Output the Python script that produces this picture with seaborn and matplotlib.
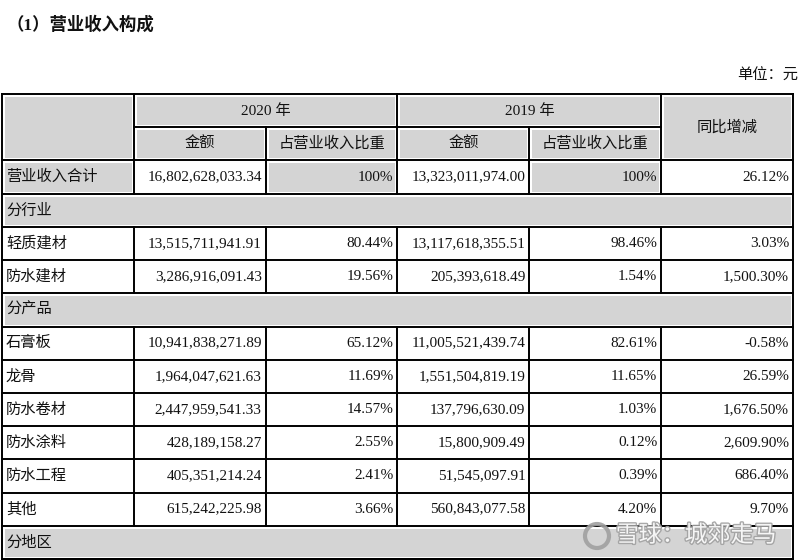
import numpy as np
import pandas as pd
import seaborn as sns
import matplotlib
matplotlib.use("Agg")
import matplotlib.pyplot as plt
import matplotlib.patheffects as pe
from matplotlib.patches import Ellipse

# ---------------- data ----------------
title = "（1）营业收入构成"
unit_note = "单位：元"
years = ["2020 年", "2019 年"]
sub_headers = ["金额", "占营业收入比重"]
yoy_header = "同比增减"

total_label = "营业收入合计"
total_2020 = 16802628033.34
total_share_2020 = 100
total_2019 = 13323011974.00
total_share_2019 = 100
total_yoy = 26.12

section_industry = "分行业"
industry_labels = ["轻质建材", "防水建材"]
industry_2020 = [13515711941.91, 3286916091.43]
industry_share_2020 = [80.44, 19.56]
industry_2019 = [13117618355.51, 205393618.49]
industry_share_2019 = [98.46, 1.54]
industry_yoy = [3.03, 1500.30]

section_product = "分产品"
product_labels = ["石膏板", "龙骨", "防水卷材", "防水涂料", "防水工程", "其他"]
product_2020 = [10941838271.89, 1964047621.63, 2447959541.33, 428189158.27, 405351214.24, 615242225.98]
product_share_2020 = [65.12, 11.69, 14.57, 2.55, 2.41, 3.66]
product_2019 = [11005521439.74, 1551504819.19, 137796630.09, 15800909.49, 51545097.91, 560843077.58]
product_share_2019 = [82.61, 11.65, 1.03, 0.12, 0.39, 4.20]
product_yoy = [-0.58, 26.59, 1676.50, 2609.90, 686.40, 9.70]

section_region = "分地区"
watermark = "雪球：城郊走马"

# ---------------- build rows ----------------
rows = []  # (kind, values)
rows.append(("total", [total_label, total_2020, total_share_2020, total_2019, total_share_2019, total_yoy]))
rows.append(("section", [section_industry]))
for i, lab in enumerate(industry_labels):
    rows.append(("data", [lab, industry_2020[i], industry_share_2020[i], industry_2019[i],
                          industry_share_2019[i], industry_yoy[i]]))
rows.append(("section", [section_product]))
for i, lab in enumerate(product_labels):
    rows.append(("data", [lab, product_2020[i], product_share_2020[i], product_2019[i],
                          product_share_2019[i], product_yoy[i]]))
rows.append(("section", [section_region]))

n_cols = 6
n_rows = 2 + len(rows)

fill = np.zeros((n_rows, n_cols))
fill[0:2, :] = 1
for r, (kind, _) in enumerate(rows, start=2):
    if kind == "section":
        fill[r, :] = 1
    elif kind == "total":
        fill[r, [0, 2, 4]] = 1
fill_df = pd.DataFrame(fill)

def fmt_amount(v):
    return f"{v:,.2f}"

def fmt_share(v):
    return "100%" if v == 100 else f"{v:.2f}%"

def fmt_yoy(v):
    return f"{v:,.2f}%"

# ---------------- figure ----------------
sns.set_theme(style="white")
FAM = ["Liberation Serif", "Noto Sans CJK SC", "DejaVu Sans"]
plt.rcParams["font.family"] = FAM

W, H = 800, 560
fig = plt.figure(figsize=(W / 100, H / 100), dpi=100)
fig.patch.set_facecolor("white")

left_px, right_px, top_px, bottom_px = 2, 793, 94, 559
ax = fig.add_axes([left_px / W, 1 - bottom_px / H, (right_px - left_px) / W, (bottom_px - top_px) / H])

gray = "#d4d4d4"
sns.heatmap(fill_df, ax=ax, cmap=["#ffffff", gray], vmin=0, vmax=1, cbar=False,
            linewidths=0, xticklabels=False, yticklabels=False)
ax.set_xlim(0, n_cols)
ax.set_ylim(n_rows, 0)
for s in ax.spines.values():
    s.set_visible(False)

# line segments (respecting merged cells)
segs = []
segs += [((0, 0), (n_cols, 0)), ((0, n_rows), (n_cols, n_rows)),
         ((0, 0), (0, n_rows)), ((n_cols, 0), (n_cols, n_rows))]
segs.append(((1, 1), (5, 1)))
segs.append(((1, 2), (n_cols, 2)))
segs.append(((0, 2), (1, 2)))
for x in [1, 3, 5]:
    segs.append(((x, 0), (x, 2)))
for x in [2, 4]:
    segs.append(((x, 1), (x, 2)))
for r, (kind, _) in enumerate(rows, start=2):
    segs.append(((0, r + 1), (n_cols, r + 1)))
    if kind != "section":
        for x in range(1, n_cols):
            segs.append(((x, r), (x, r + 1)))

for (x0, y0), (x1, y1) in segs:
    ax.plot([x0, x1], [y0, y1], color="white", lw=3.6, solid_capstyle="butt", zorder=3, clip_on=False)
for (x0, y0), (x1, y1) in segs:
    ax.plot([x0, x1], [y0, y1], color="black", lw=1.4, solid_capstyle="projecting", zorder=4, clip_on=False)

fs = 11
tc = "#111111"
for i, y in enumerate(years):
    ax.text(2 + 2 * i, 0.5, y, ha="center", va="center", fontsize=fs, color=tc, zorder=5)
    for j, sh in enumerate(sub_headers):
        ax.text(1.5 + 2 * i + j, 1.5, sh, ha="center", va="center", fontsize=fs, color=tc, zorder=5)
ax.text(5.5, 1.0, yoy_header, ha="center", va="center", fontsize=fs, color=tc, zorder=5)

pad_l, pad_r = 0.03, 0.03
for r, (kind, vals) in enumerate(rows, start=2):
    yc = r + 0.5
    ax.text(pad_l, yc, vals[0], ha="left", va="center", fontsize=fs, color=tc, zorder=5)
    if kind == "section":
        continue
    texts = [fmt_amount(vals[1]), fmt_share(vals[2]), fmt_amount(vals[3]), fmt_share(vals[4]), fmt_yoy(vals[5])]
    for c, t in enumerate(texts, start=1):
        ax.text(c + 1 - pad_r, yc, t, ha="right", va="center", fontsize=fs, color=tc, zorder=5)

fig.text(6 / W, 1 - 25 / H, title, ha="left", va="center", fontsize=12.5, fontweight="bold", color=tc)
fig.text(798 / W, 1 - 76 / H, unit_note, ha="right", va="center", fontsize=fs, color=tc)

# watermark
fig.text(776 / W, 1 - 536 / H, watermark, ha="right", va="center", fontsize=16.5, color="white", alpha=0.9,
         path_effects=[pe.withStroke(linewidth=2, foreground="#a0a0a0")], zorder=10)
logo = Ellipse((597 / W, 1 - 536 / H), 24 / W, 24 / H, transform=fig.transFigure, fill=False,
               edgecolor="#a0a0a0", lw=3, alpha=0.9, zorder=10)
fig.add_artist(logo)

fig.savefig("out.png", dpi=100)
